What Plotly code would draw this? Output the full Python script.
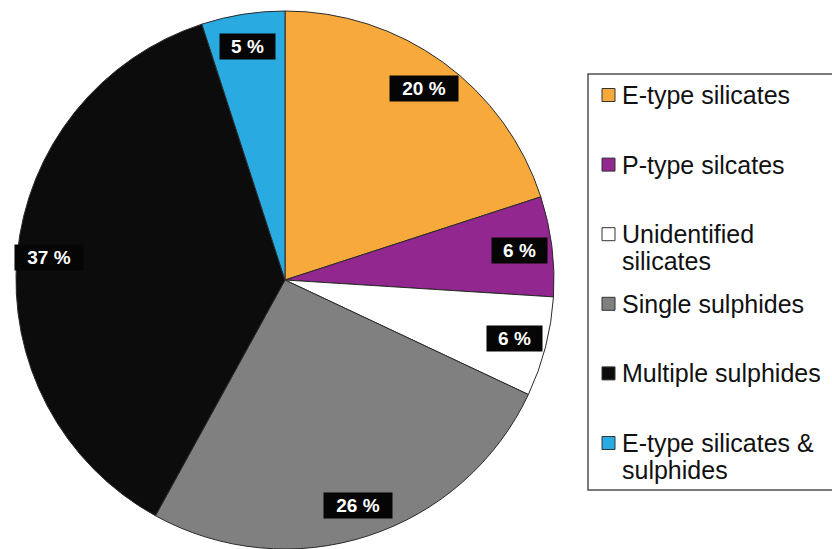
import math
import plotly.graph_objects as go

# Particle classes and their share of the total (percent)
categories = [
    "E-type silicates",
    "P-type silcates",
    "Unidentified silicates",
    "Single sulphides",
    "Multiple sulphides",
    "E-type silicates & sulphides",
]
legend_labels = [
    "E-type silicates",
    "P-type silcates",
    "Unidentified<br>silicates",
    "Single sulphides",
    "Multiple sulphides",
    "E-type silicates &<br>sulphides",
]
values = [20, 6, 6, 26, 37, 5]
colors = ["#F8A93B", "#92278F", "#FFFFFF", "#808080", "#0C0C0C", "#29ABE2"]

W, H = 832, 549
CX, CY, R = 285, 280, 269          # pie centre and radius in pixels
FONT = "Liberation Sans, Arial, sans-serif"


def fx(x):
    return x / W


def fy(y):
    return 1 - y / H


fig = go.Figure(
    go.Pie(
        labels=categories,
        values=values,
        sort=False,
        direction="clockwise",
        rotation=0,
        marker=dict(colors=colors, line=dict(color="#2a2a2a", width=1)),
        textinfo="none",
        hoverinfo="label+percent",
        showlegend=False,
        domain=dict(x=[fx(CX - R), fx(CX + R)], y=[fy(CY + R), fy(CY - R)]),
    )
)

annotations = []
shapes = []

# Percentage labels: white bold text on black boxes, placed along each slice's mid-angle
total = sum(values)
cum = 0
for v in values:
    mid = (cum + v / 2) / total * 2 * math.pi
    cum += v
    d = 0.88 * R
    x = CX + d * math.sin(mid)
    y = CY - d * math.cos(mid)
    label = f"{v} %"
    annotations.append(dict(
        x=fx(x), y=fy(y), xref="paper", yref="paper",
        text=f"<b>{label}</b>",
        showarrow=False, xanchor="center", yanchor="middle", align="center",
        width=13 * len(label) + 12,
        font=dict(family=FONT, size=19, color="white"),
        bgcolor="#050505", borderpad=2,
    ))

# Legend drawn as a framed box with square swatches
shapes.append(dict(
    type="rect", xref="paper", yref="paper",
    x0=fx(588), x1=fx(840), y0=fy(490), y1=fy(74),
    line=dict(color="#505050", width=1.5), fillcolor="rgba(0,0,0,0)",
))
first_line_y = 95
step = 69.6
line_gap = 27
for i, (lab, col) in enumerate(zip(legend_labels, colors)):
    y0 = first_line_y + step * i
    shapes.append(dict(
        type="rect", xref="paper", yref="paper",
        x0=fx(602), x1=fx(615), y0=fy(y0 + 6.5), y1=fy(y0 - 6.5),
        fillcolor=col, line=dict(color="#333333", width=1),
    ))
    for j, part in enumerate(lab.split("<br>")):
        annotations.append(dict(
            x=fx(620), y=fy(y0 + line_gap * j), xref="paper", yref="paper",
            text=part, showarrow=False, xanchor="left", yanchor="middle",
            font=dict(family=FONT, size=25, color="#111111"),
        ))

fig.update_layout(
    width=W, height=H,
    margin=dict(l=0, r=0, t=0, b=0),
    paper_bgcolor="white", plot_bgcolor="white",
    annotations=annotations, shapes=shapes,
    showlegend=False,
)

fig.write_html("out.html")
